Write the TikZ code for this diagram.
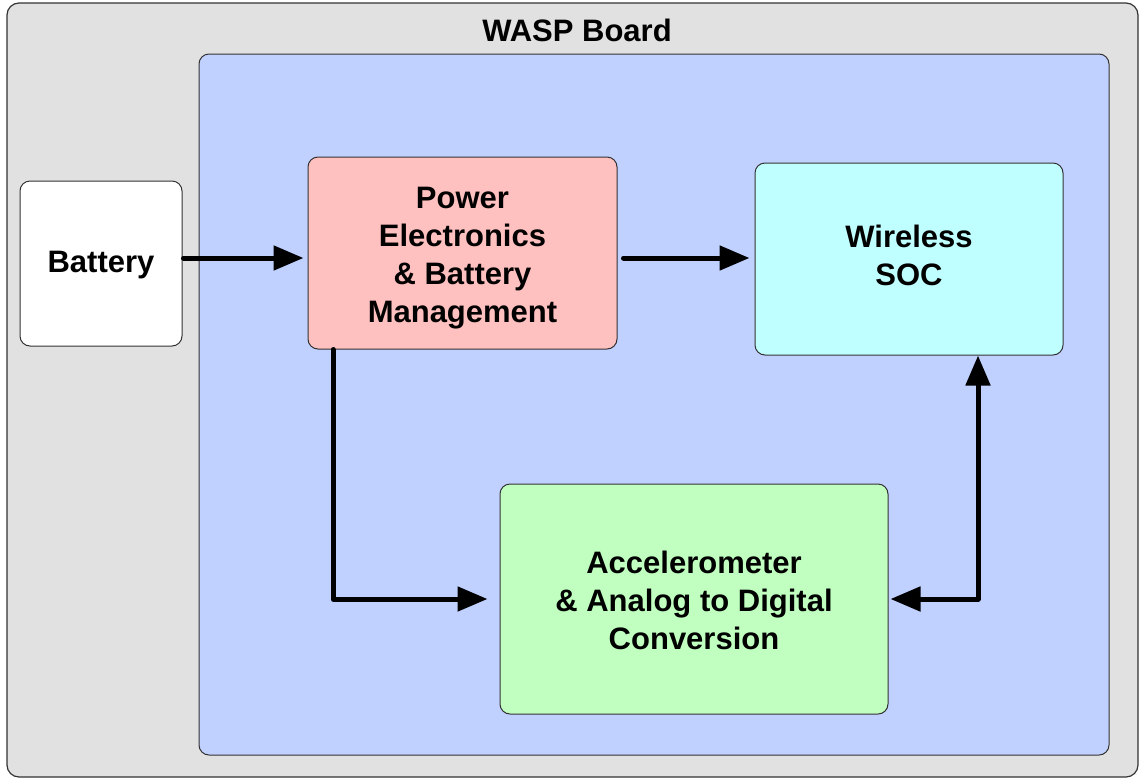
\documentclass[tikz,border=0pt]{standalone}
\usepackage{fontspec}
\setmainfont{Liberation Sans}
\usetikzlibrary{arrows.meta}
\definecolor{outerc}{HTML}{E1E1E1}
\definecolor{bluec}{HTML}{C0D0FF}
\definecolor{redc}{HTML}{FFC0C0}
\definecolor{cyanc}{HTML}{C0FFFF}
\definecolor{greenc}{HTML}{C0FFC0}
\definecolor{edgec}{HTML}{333333}
\begin{document}
\begin{tikzpicture}[x=1pt,y=-1pt,
  panel/.style={draw=edgec,line width=1.2pt,rounded corners=12pt,inner sep=0pt},
  block/.style={draw=edgec,line width=1pt,rounded corners=10pt,inner sep=0pt},
  btext/.style={align=center,inner sep=0pt,
    font=\fontsize{31}{38}\selectfont\bfseries},
  conn/.style={line width=5pt,line cap=round,line join=round,
    -{Triangle[length=30pt,width=24pt]}},
  conn2/.style={line width=5pt,line cap=round,line join=round,
    {Triangle[length=30pt,width=24pt]}-{Triangle[length=30pt,width=24pt]}}]
\useasboundingbox (0,0) rectangle (1141,780);
\fill[white] (0,0) rectangle (1141,780);
\node[panel,fill=outerc,minimum width=1131pt,minimum height=774pt] (outer) at (572.5,390) {};
\node[btext] (title) at (577,30) {WASP Board};
\node[panel,fill=bluec,line width=1pt,rounded corners=10pt,minimum width=910pt,minimum height=701pt] (board) at (654,404.5) {};
\node[block,fill=white,minimum width=162pt,minimum height=165pt] (batt) at (101,263.5) {};
\node[btext] (batttext) at ([yshift=-2pt]batt.center) {Battery};
\node[block,fill=redc,minimum width=309pt,minimum height=192pt] (power) at (462.5,253) {};
\node[btext] (powertext) at ([yshift=-5pt]power.center) {Power\\Electronics\\\& Battery\\Management};
\node[block,fill=cyanc,minimum width=308pt,minimum height=192pt] (wsoc) at (909,259) {};
\node[btext] (wsoctext) at ([yshift=4pt]wsoc.center) {Wireless\\SOC};
\node[block,fill=greenc,minimum width=388pt,minimum height=230pt] (accel) at (694,599) {};
\node[btext] (acceltext) at ([yshift=-1pt]accel.center) {Accelerometer\\\& Analog to Digital\\Conversion};
\coordinate (ya) at (0,258);
\coordinate (xd) at (333,0);
\coordinate (xu) at (978,0);
\draw[conn] ([xshift=1pt]batt.east |- ya) -- ([xshift=-4pt]power.west |- ya);
\draw[conn] ([xshift=6pt]power.east |- ya) -- ([xshift=-5pt]wsoc.west |- ya);
\draw[conn] (power.south -| xd) |- ([xshift=-12pt]accel.west);
\draw[conn2] ([xshift=2pt]accel.east) -| (wsoc.south -| xu);
\end{tikzpicture}
\end{document}
